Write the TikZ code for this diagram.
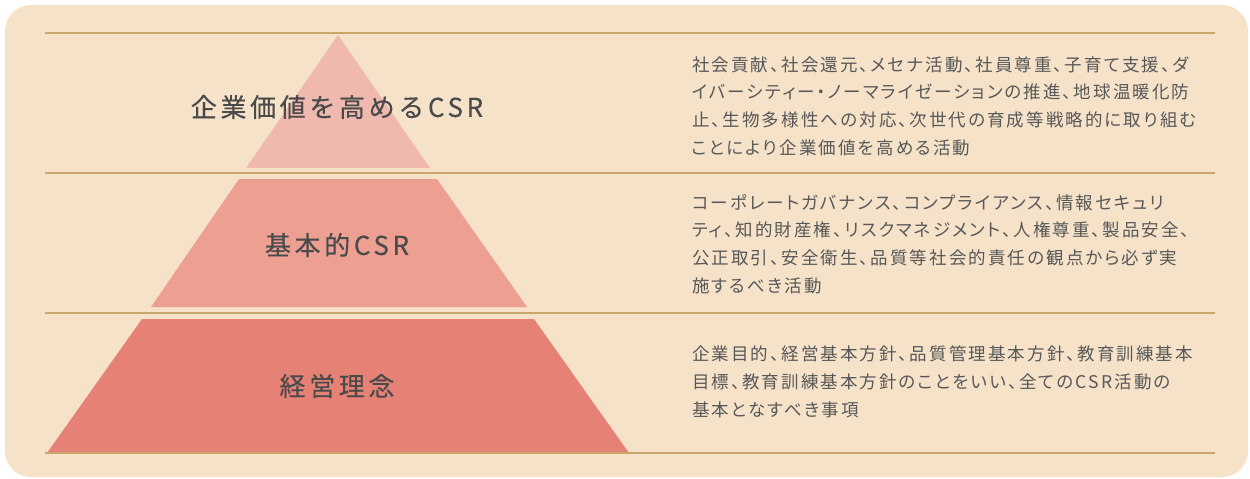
\documentclass[tikz,border=0pt]{standalone}
\usepackage{fontspec}
\newfontfamily\jpdesc{Noto Sans CJK JP}[RawFeature=+palt, LetterSpace=12]
\newfontfamily\jplabel{Noto Sans CJK JP}[LetterSpace=14, FakeBold=0.3]
\definecolor{bgsand}{HTML}{F5E2C9}
\definecolor{rulegold}{HTML}{C9A669}
\definecolor{layerA}{HTML}{F0B9AF}
\definecolor{layerB}{HTML}{ED9F92}
\definecolor{layerC}{HTML}{E68176}
\definecolor{labelgray}{HTML}{4A4A4A}
\definecolor{descgray}{HTML}{585858}
\begin{document}
\begin{tikzpicture}[x=1pt,y=-1pt,
  rulestyle/.style={draw=rulegold,line width=1.1pt},
  layerlabel/.style={inner sep=0pt,text=labelgray,font={\fontsize{26pt}{30pt}\selectfont\jplabel}},
  desctext/.style={inner sep=0pt,anchor=west,align=left,text=descgray,font={\fontsize{17.5pt}{27.7pt}\selectfont\jpdesc}}]
\useasboundingbox (0,0) rectangle (1250,479);
\fill[white] (0,0) rectangle (1250,479);
\fill[bgsand,rounded corners=26pt] (5,5) rectangle (1248,477);
% pyramid layers
\fill[layerA] (338,35) -- (430,168) -- (246,168) -- cycle;
\fill[layerB] (239,179) -- (437,179) -- (527,307) -- (151,307) -- cycle;
\fill[layerC] (142,319) -- (534,319) -- (629,453) -- (47,453) -- cycle;
% rules
\coordinate (r1a) at (45,33);  \coordinate (r1b) at (1215,33);
\coordinate (r2a) at (45,173); \coordinate (r2b) at (1215,173);
\coordinate (r3a) at (45,313); \coordinate (r3b) at (1215,313);
\coordinate (r4a) at (45,453); \coordinate (r4b) at (1215,453);
\draw[rulestyle] (r1a) -- (r1b);
\draw[rulestyle] (r2a) -- (r2b);
\draw[rulestyle] (r3a) -- (r3b);
\draw[rulestyle] (r4a) -- (r4b);
% labels
\node[layerlabel] (lab1) at (337,107) {企業価値を高めるCSR};
\node[layerlabel] (lab2) at (337,245) {基本的CSR};
\node[layerlabel] (lab3) at (337,386) {経営理念};
% descriptions
\node[desctext] (desc1) at (692,106) {社会貢献、社会還元、メセナ活動、社員尊重、子育て支援、ダ\\イバーシティー・ノーマライゼーションの推進、地球温暖化防\\止、生物多様性への対応、次世代の育成等戦略的に取り組む\\ことにより企業価値を高める活動};
\node[desctext] (desc2) at (692,244) {コーポレートガバナンス、コンプライアンス、情報セキュリ\\ティ、知的財産権、リスクマネジメント、人権尊重、製品安全、\\公正取引、安全衛生、品質等社会的責任の観点から必ず実\\施するべき活動};
\node[desctext] (desc3) at (692,382) {企業目的、経営基本方針、品質管理基本方針、教育訓練基本\\目標、教育訓練基本方針のことをいい、全てのCSR活動の\\基本となすべき事項};
\end{tikzpicture}
\end{document}
